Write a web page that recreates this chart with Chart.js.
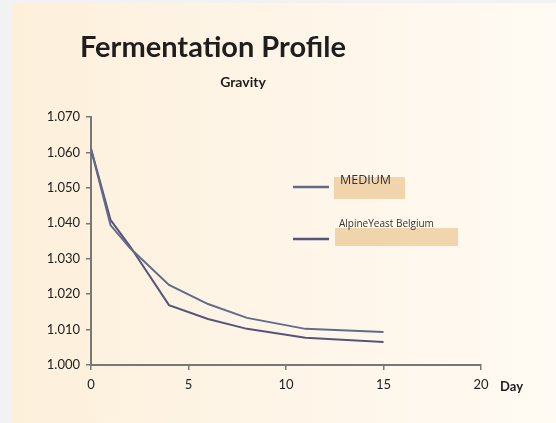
<!DOCTYPE html>
<html>
<head>
<meta charset="utf-8">
<script src="https://cdn.jsdelivr.net/npm/chart.js@4.4.1/dist/chart.umd.min.js"></script>
<style>
  html, body { margin: 0; padding: 0; background: #f2f2f2; }
  #wrap { width: 556px; height: 423px; }
</style>
</head>
<body>
<div id="wrap"><canvas id="gravityChart" width="556" height="423"></canvas></div>
<script>
// data
const days = [0, 1, 2, 4, 6, 8, 11, 15];
const mediumGravity = [1.061, 1.0395, 1.033, 1.0226, 1.0172, 1.0133, 1.0102, 1.0093];
const alpineGravity = [1.061, 1.041, 1.0335, 1.0169, 1.013, 1.0102, 1.0077, 1.0065];
const seriesLabels = ["MEDIUM", "AlpineYeast Belgium"];
const xTicks = [0, 5, 10, 15, 20];
const yTicks = [1.000, 1.010, 1.020, 1.030, 1.040, 1.050, 1.060, 1.070];

const toPoints = (vals) => vals.map((v, i) => ({ x: days[i], y: v }));

// background panel, titles, legend and axis name
const decor = {
  id: 'decor',
  beforeDraw(chart) {
    const c = chart.ctx;
    c.save();
    c.fillStyle = '#f2f2f2';
    c.fillRect(0, 0, chart.width, chart.height);
    const g = c.createLinearGradient(12, 0, chart.width, 0);
    g.addColorStop(0, '#fdf0db');
    g.addColorStop(0.6, '#fef6ea');
    g.addColorStop(1, '#fffaf3');
    c.fillStyle = g;
    c.fillRect(12, 3, chart.width - 12, chart.height - 3);
    c.restore();
  },
  afterDraw(chart) {
    const c = chart.ctx;
    c.save();
    c.fillStyle = '#1e1e1e';
    c.textBaseline = 'alphabetic';
    c.textAlign = 'left';
    c.font = 'bold 29px Lato';
    c.fillText('Fermentation Profile', 80, 57, 272);
    c.textAlign = 'center';
    c.font = 'bold 14px Lato';
    c.fillText('Gravity', 243, 87);
    c.textAlign = 'left';
    c.font = 'bold 13px Lato';
    c.fillText('Day', 500, 391);

    // legend
    const legendRows = [
      { lineY: 187, box: [334, 177, 71, 22], textX: 340, textY: 184, font: '12.5px "Open Sans"' },
      { lineY: 239, box: [335, 228, 123, 18], textX: 339, textY: 227, font: '10px "Open Sans"' }
    ];
    chart.data.datasets.forEach((ds, i) => {
      const r = legendRows[i];
      c.strokeStyle = ds.borderColor;
      c.lineWidth = 2.5;
      c.beginPath();
      c.moveTo(293, r.lineY);
      c.lineTo(329, r.lineY);
      c.stroke();
      c.fillStyle = 'rgba(236, 204, 156, 0.8)';
      c.fillRect(r.box[0], r.box[1], r.box[2], r.box[3]);
      c.fillStyle = '#333';
      c.font = r.font;
      c.fillText(ds.label, r.textX, r.textY);
    });
    c.restore();
  }
};

const ctx = document.getElementById('gravityChart');
new Chart(ctx, {
  type: 'line',
  data: {
    datasets: [{
      label: seriesLabels[0],
      data: toPoints(mediumGravity),
      borderColor: '#616c8a',
      borderWidth: 2,
      pointRadius: 0,
      tension: 0
    }, {
      label: seriesLabels[1],
      data: toPoints(alpineGravity),
      borderColor: '#55557a',
      borderWidth: 2,
      pointRadius: 0,
      tension: 0
    }]
  },
  options: {
    responsive: false,
    animation: false,
    layout: { padding: { left: 0, right: 75, top: 117, bottom: 0 } },
    plugins: {
      legend: { display: false },
      tooltip: { enabled: false }
    },
    scales: {
      x: {
        type: 'linear',
        min: 0,
        max: 20,
        afterFit: (s) => { s.height = 58; },
        afterBuildTicks: (s) => { s.ticks = xTicks.map(v => ({ value: v })); },
        border: { display: true, color: '#777', width: 2 },
        grid: { drawOnChartArea: false, color: '#777', lineWidth: 1.5, tickLength: 5 },
        ticks: { color: '#222', font: { family: 'Lato', size: 13 }, padding: 7, maxRotation: 0 }
      },
      y: {
        min: 1.0,
        max: 1.07,
        afterFit: (s) => { s.width = 91; },
        afterBuildTicks: (s) => { s.ticks = yTicks.map(v => ({ value: v })); },
        border: { display: true, color: '#777', width: 2 },
        grid: { drawOnChartArea: false, color: '#777', lineWidth: 1.5, tickLength: 5 },
        ticks: {
          color: '#222',
          font: { family: 'Lato', size: 13 },
          padding: 6,
          callback: (v) => Number(v).toFixed(3)
        }
      }
    }
  },
  plugins: [decor]
});
</script>
</body>
</html>
